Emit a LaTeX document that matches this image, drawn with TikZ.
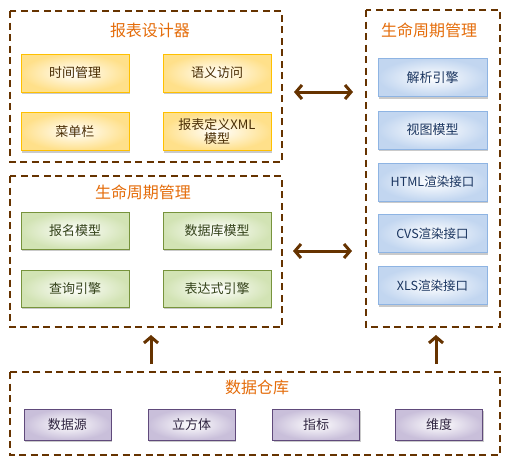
\documentclass[tikz,border=0pt]{standalone}
\usepackage{fontspec}
\setmainfont{Noto Sans CJK SC}
\usetikzlibrary{arrows.meta,shadows,positioning}
\definecolor{brn}{HTML}{663300}
\definecolor{ttl}{HTML}{E46C0A}
\definecolor{orB}{HTML}{FFC000}
\definecolor{orF}{HTML}{FFE08A}
\definecolor{orT}{HTML}{4A2E05}
\definecolor{grB}{HTML}{77933C}
\definecolor{grF}{HTML}{D2E3B4}
\definecolor{grT}{HTML}{34431A}
\definecolor{blB}{HTML}{8EB4E3}
\definecolor{blF}{HTML}{C2D6F0}
\definecolor{blT}{HTML}{1A3560}
\definecolor{puB}{HTML}{604A7B}
\definecolor{puF}{HTML}{C9BFDA}
\definecolor{puT}{HTML}{2F2440}
\tikzset{
  cont/.style={draw=brn, line width=1.8pt, dash pattern=on 7pt off 4.5pt},
  ttext/.style={text=ttl, font=\fontsize{16}{19}\selectfont},
  bx/.style={rectangle, line width=1pt, font=\fontsize{13}{15}\selectfont, align=center,
    drop shadow={shadow xshift=1pt, shadow yshift=-2pt, opacity=0.35, fill=black!60}},
  obox/.style={bx, draw=orB, inner color=white, outer color=orF, text=orT, minimum width=108pt, minimum height=38pt},
  gbox/.style={bx, draw=grB, inner color=white, outer color=grF, text=grT, minimum width=108pt, minimum height=37pt},
  bbox/.style={bx, draw=blB, inner color=white, outer color=blF, text=blT, minimum width=109pt, minimum height=38pt},
  pbox/.style={bx, draw=puB, inner color=white, outer color=puF, text=puT, minimum width=87pt, minimum height=31pt},
  darr/.style={draw=brn, line width=3pt, {Straight Barb[length=6pt,width=14pt]}-{Straight Barb[length=6pt,width=14pt]}},
  uarr/.style={draw=brn, line width=3pt, -{Straight Barb[length=6pt,width=14pt]}}
}
\begin{document}
\begin{tikzpicture}[x=1pt,y=-1pt]
\useasboundingbox (0,0) rectangle (515,464);
% containers
\draw[cont] (10,11) rectangle (282,162);
\draw[cont] (10,176) rectangle (282,327);
\draw[cont] (366,10) rectangle (500,327);
\draw[cont] (10,372) rectangle (500,455);
% titles
\node[ttext] (t1) at (150,30) {报表设计器};
\node[ttext] (t2) at (143,192) {生命周期管理};
\node[ttext] (t3) at (429,30) {生命周期管理};
\node[ttext] (t4) at (257,387) {数据仓库};
% orange
\node[obox] (o1) at (75,73) {时间管理};
\node[obox] (o2) at (217,73) {语义访问};
\node[obox] (o3) at (75,131.5) {菜单栏};
\node[obox, font=\fontsize{13}{14}\selectfont] (o4) at (217,131.5) {报表定义XML\\模型};
% green
\node[gbox] (g1) at (75,230.5) {报名模型};
\node[gbox] (g2) at (217,230.5) {数据库模型};
\node[gbox] (g3) at (75,288.5) {查询引擎};
\node[gbox] (g4) at (217,288.5) {表达式引擎};
% blue
\node[bbox] (b1) at (432.5,77.5) {解析引擎};
\node[bbox] (b2) at (432.5,130) {视图模型};
\node[bbox, font=\fontsize{12.5}{15}\selectfont] (b3) at (432.5,182) {HTML渲染接口};
\node[bbox, font=\fontsize{12.5}{15}\selectfont] (b4) at (432.5,233.5) {CVS渲染接口};
\node[bbox, font=\fontsize{12.5}{15}\selectfont] (b5) at (432.5,285.5) {XLS渲染接口};
% purple
\node[pbox] (p1) at (67.5,424.5) {数据源};
\node[pbox] (p2) at (191.5,424.5) {立方体};
\node[pbox] (p3) at (316,424.5) {指标};
\node[pbox] (p4) at (439,424.5) {维度};
% arrows
\coordinate (a1l) at (294,92);
\coordinate (a1r) at (353,92);
\coordinate (a2l) at (293,251);
\coordinate (a2r) at (352,251);
\coordinate (u1b) at (151,364);
\coordinate (u1t) at (151,335);
\coordinate (u2b) at (436,364);
\coordinate (u2t) at (436,335);
\draw[darr] (a1l) -- (a1r);
\draw[darr] (a2l) -- (a2r);
\draw[uarr] (u1b) -- (u1t);
\draw[uarr] (u2b) -- (u2t);
\end{tikzpicture}
\end{document}
